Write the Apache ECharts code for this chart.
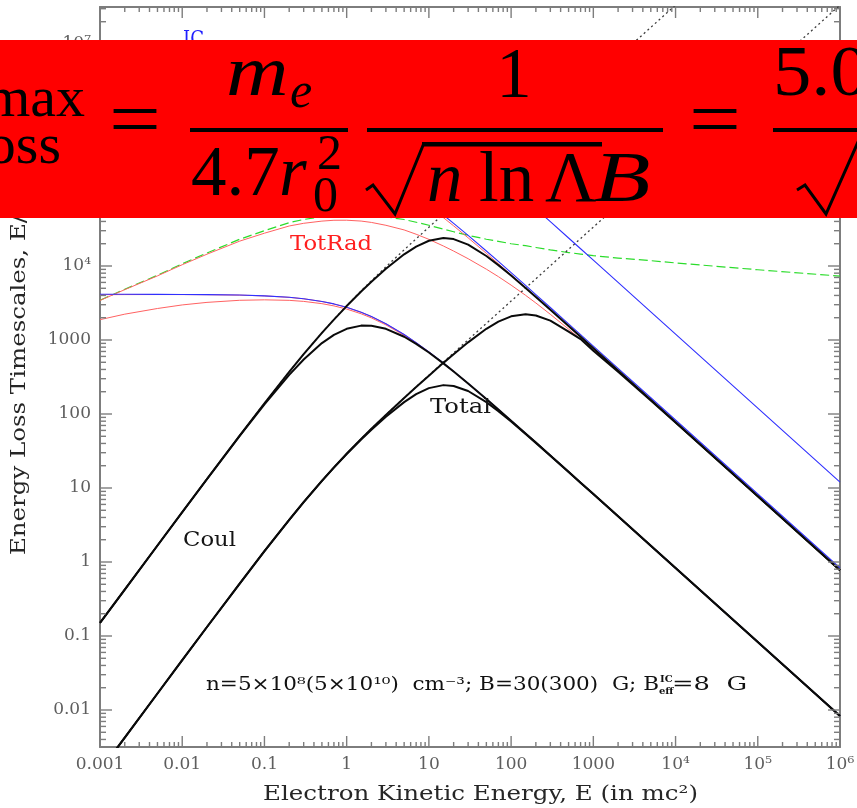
<!DOCTYPE html>
<html>
<head>
<meta charset="utf-8">
<script src="https://cdn.jsdelivr.net/npm/echarts@6/dist/echarts.min.js"></script>
<style>
  html, body { margin: 0; padding: 0; background: #ffffff; }
  #chart { width: 857px; height: 808px; }
</style>
</head>
<body>
<div id="chart"></div>
<script>
// Electron kinetic energy grid (units of mc^2)
const energy = [0.001, 0.002, 0.005, 0.01, 0.02, 0.05, 0.1, 0.2, 0.3, 0.5, 0.7, 1, 1.5, 2, 3, 5, 7, 10, 15, 20, 30, 50, 70, 100, 150, 200, 300, 500, 700, 1000, 2000, 5000, 1e4, 1e5, 1e6];

// Coulomb loss timescales (s), n = 5e8 and n = 5e10
const coulThin = [0.15, 0.424, 1.672, 4.711, 13.23, 51.17, 139.8, 371.0, 643.3, 1251, 1900, 2906, 4614, 6328, 9748, 16545, 23308, 33421, 50242, 67044, 100628, 167768, 234900, 335600, 503400, 671200, 1006800, 1678000, 2349000, 3356000, 6712000, 16780000, 33560000, 335600000, 3356000000];
const coulDense = [0.0015, 0.00424, 0.01672, 0.04711, 0.1323, 0.5117, 1.398, 3.710, 6.433, 12.51, 19.00, 29.06, 46.14, 63.28, 97.48, 165.5, 233.1, 334.2, 502.4, 670.4, 1006, 1678, 2349, 3356, 5034, 6712, 10068, 16780, 23490, 33560, 67120, 167800, 335600, 3356000, 33560000];

// Synchrotron (B = 300 G, B = 30 G) and inverse Compton (B_eff = 8 G)
const synch300 = [4148, 4146, 4140, 4129, 4109, 4049, 3952, 3773, 3609, 3320, 3074, 2767, 2371, 2075, 1660, 1186, 922.2, 691.7, 488.2, 377.3, 259.4, 159.6, 115.3, 81.37, 54.61, 41.09, 27.48, 16.53, 11.82, 8.283, 4.146, 1.659, 0.8298, 0.0830, 0.00830];
const synch30 = [414800, 414600, 414000, 412900, 410900, 404900, 395200, 377300, 360900, 332000, 307400, 276700, 237100, 207500, 166000, 118600, 92220, 69170, 48820, 37730, 25940, 15960, 11530, 8137, 5461, 4109, 2748, 1653, 1182, 828.3, 414.6, 165.9, 82.98, 8.30, 0.830];
const inverseCompton = [5997000, 5994000, 5985000, 5970000, 5941000, 5854000, 5714000, 5455000, 5217000, 4800000, 4444000, 4000000, 3429000, 3000000, 2400000, 1714000, 1333000, 1000000, 705900, 545500, 375000, 230800, 166700, 117600, 78950, 59410, 39740, 23900, 17090, 11980, 5994, 2399, 1200, 120.0, 12.00];

// Bremsstrahlung, n = 5e10
const bremsDense = [3450, 4850, 7500, 10700, 15000, 23000, 30000, 38500, 42500, 46500, 48500, 49500, 49500, 48500, 46000, 42500, 39000, 35500, 31500, 29000, 26000, 23000, 21500, 20000, 18800, 17800, 16500, 15200, 14500, 13800, 12800, 11800, 11000, 8900, 7300];

// Total radiative timescales
const totRadDense300 = [1883, 2234, 2666, 2978, 3224, 3441, 3490, 3434, 3324, 3097, 2889, 2619, 2261, 1989, 1601, 1153, 900.3, 678.0, 480.4, 372.2, 256.7, 158.4, 114.6, 80.98, 54.41, 40.97, 27.42, 16.50, 11.80, 8.272, 4.142, 1.658, 0.8292, 0.08294, 0.008294];
const totRadDense30 = [3420, 4790, 7357, 10411, 14436, 21683, 27747, 34722, 37750, 40437, 41494, 41556, 40470, 38802, 35485, 30727, 26857, 22922, 18638, 15920, 12550, 9053, 7182, 5513, 4016, 3161, 2224, 1403, 1027, 733.5, 376.4, 153.2, 77.07, 7.757, 0.7762];
const totRadThin300 = [4096, 4108, 4115, 4110, 4095, 4039, 3944, 3767, 3603, 3315, 3070, 2764, 2368, 2073, 1658, 1185, 921.3, 691.1, 487.8, 377.0, 259.2, 159.5, 115.2, 81.31, 54.57, 41.06, 27.46, 16.52, 11.81, 8.277, 4.143, 1.658, 0.8292, 0.08294, 0.008294];
const totRadThin30 = [182600, 215500, 256500, 283700, 305900, 325100, 329100, 323300, 312700, 291100, 271400, 245900, 212200, 186600, 150200, 108100, 84390, 63540, 45000, 34870, 24040, 14830, 10730, 7582, 5093, 3835, 2566, 1545, 1105, 774.3, 387.7, 155.2, 77.62, 7.763, 0.7762];

// Total loss timescales for the four (n, B) combinations
const totalThin30 = [0.15, 0.424, 1.672, 4.711, 13.23, 51.16, 139.75, 370.6, 642.1, 1246, 1888, 2874, 4526, 6126, 9169, 14386, 18317, 21958, 23853, 23097, 19450, 13645, 10278, 7444, 5052, 3811, 2560, 1543, 1103, 774.0, 387.4, 155.2, 77.61, 7.763, 0.7762];
const totalThin300 = [0.15, 0.4239, 1.671, 4.706, 13.19, 50.53, 135.0, 337.7, 545.8, 908.1, 1174, 1417, 1565, 1561, 1417, 1106, 886.3, 677.1, 483.1, 374.9, 258.5, 159.3, 115.2, 81.29, 54.56, 41.06, 27.46, 16.52, 11.81, 8.277, 4.143, 1.658, 0.8292, 0.08294, 0.008294];
const totalDense30 = [0.0015, 0.00424, 0.01672, 0.04711, 0.1323, 0.5117, 1.398, 3.710, 6.432, 12.50, 18.99, 29.04, 46.09, 63.18, 97.21, 164.6, 231.0, 329.3, 490.9, 643.2, 930.0, 1416, 1772, 2088, 2231, 2147, 1826, 1297, 1029, 716.3, 373.1, 152.8, 77.05, 7.757, 0.7760];
const totalDense300 = [0.0015, 0.00424, 0.01672, 0.04710, 0.1323, 0.5116, 1.398, 3.706, 6.421, 12.46, 18.87, 28.74, 45.22, 61.33, 91.88, 144.7, 185.2, 223.8, 245.6, 239.3, 204.5, 144.7, 109.3, 79.08, 53.83, 40.72, 27.34, 16.49, 11.80, 8.270, 4.142, 1.658, 0.8292, 0.08294, 0.008294];

// Axis ticks and their labels
const xTickValues = [0.001, 0.01, 0.1, 1, 10, 100, 1000, 1e4, 1e5, 1e6];
const xTickLabels = ['0.001', '0.01', '0.1', '1', '10', '100', '1000', '10\u2074', '10\u2075', '10\u2076'];
const yTickValues = [0.01, 0.1, 1, 10, 100, 1000, 1e4, 1e5, 1e6, 1e7];
const yTickLabels = ['0.01', '0.1', '1', '10', '100', '1000', '10\u2074', '10\u2075', '10\u2076', '10\u2077'];

const X_MIN = 0.001, X_MAX = 1e6;
const Y_MIN = Math.pow(10, -2.5), Y_MAX = Math.pow(10, 7.5);

// 2..9 subdivisions of each decade inside [lo, hi]
function minorTicks(lo, hi) {
  const out = [];
  for (let k = Math.floor(Math.log10(lo)); k <= Math.ceil(Math.log10(hi)); k++) {
    for (let m = 2; m <= 9; m++) {
      const v = m * Math.pow(10, k);
      if (v > lo && v < hi) out.push(v);
    }
  }
  return out;
}
const xMinor = minorTicks(X_MIN, X_MAX);
const yMinor = minorTicks(Y_MIN, Y_MAX);

function labelFor(values, labels) {
  return function (v) {
    const e = Math.round(Math.log10(v));
    for (let i = 0; i < values.length; i++) {
      if (Math.round(Math.log10(values[i])) === e) return labels[i];
    }
    return '';
  };
}

const SERIF = '"DejaVu Serif", serif';
const MATH = '"Liberation Serif", "Times New Roman", serif';
const AXIS_GRAY = '#7d7d7d';
const LABEL_GRAY = '#5e5e5e';

const mctx = document.createElement('canvas').getContext('2d');
function measure(str, size, family, italic, bold) {
  mctx.font = (italic ? 'italic ' : '') + (bold ? 'bold ' : '') + size + 'px ' + family;
  return mctx.measureText(str).width;
}

// text placed by its baseline; optional width stretches it horizontally
function txt(str, o) {
  const family = o.family || SERIF;
  let sx = o.scale || 1;
  if (o.width) sx = o.width / measure(o.fitTo || str, o.size, family, o.italic, o.bold);
  const mid = o.baseline - (family === MATH ? 0.3375 : 0.346) * o.size;
  return {
    type: 'text', x: o.x, y: mid, scaleX: sx, z: o.z || 50, silent: true,
    style: {
      text: str, fill: o.color || '#000', fontSize: o.size, fontFamily: family,
      fontStyle: o.italic ? 'italic' : 'normal', fontWeight: o.bold ? 'bold' : 'normal',
      textAlign: o.align || 'left', textVerticalAlign: 'middle'
    }
  };
}

function pairs(values) { return energy.map((e, i) => [e, values[i]]); }

function line(name, values, color, width, type, z) {
  return {
    name: name, type: 'line', data: pairs(values), xAxisIndex: 0, yAxisIndex: 0,
    showSymbol: false, symbol: 'none', smooth: false, silent: true,
    lineStyle: { color: color, width: width, type: type, join: 'round' }, z: z, clip: true
  };
}

const GREEN = '#2bdc2b', RED = '#ff6262', BLUE = '#3030ff', BLACK = '#0a0a0a', DOT = '#3c3c3c';

const series = [
  line('Brems', bremsDense, GREEN, 1.2, [9, 4], 2),
  line('TotRad 5e10/300', totRadDense300, RED, 1, 'solid', 3),
  line('TotRad 5e10/30', totRadDense30, RED, 1, 'solid', 3),
  line('TotRad 5e8/300', totRadThin300, RED, 1, 'solid', 3),
  line('TotRad 5e8/30', totRadThin30, RED, 1, 'solid', 3),
  line('Synch 300', synch300, BLUE, 1.1, 'solid', 4),
  line('Synch 30', synch30, BLUE, 1.1, 'solid', 4),
  line('IC', inverseCompton, BLUE, 1.1, 'solid', 4),
  line('Coul 5e8', coulThin, DOT, 1.3, [2, 3], 5),
  line('Coul 5e10', coulDense, DOT, 1.3, [2, 3], 5),
  line('Total 5e8/30', totalThin30, BLACK, 2, 'solid', 6),
  line('Total 5e8/300', totalThin300, BLACK, 2, 'solid', 6),
  line('Total 5e10/30', totalDense30, BLACK, 2, 'solid', 6),
  line('Total 5e10/300', totalDense300, BLACK, 2, 'solid', 6)
];

function logAxis(dim, position, showLabel) {
  const ax = {
    type: 'log', logBase: 10, position: position,
    min: dim === 'x' ? X_MIN : Y_MIN, max: dim === 'x' ? X_MAX : Y_MAX,
    axisLine: { show: true, onZero: false, lineStyle: { color: AXIS_GRAY, width: 2 } },
    axisTick: { show: false },
    axisLabel: { show: false },
    splitLine: { show: false }, minorTick: { show: false }, minorSplitLine: { show: false }
  };
  if (showLabel) {
    ax.axisLabel = {
      show: true, customValues: dim === 'x' ? xTickValues : yTickValues, margin: 9,
      color: LABEL_GRAY, fontFamily: SERIF, fontSize: 17,
      formatter: dim === 'x' ? labelFor(xTickValues, xTickLabels) : labelFor(yTickValues, yTickLabels)
    };
  }
  return ax;
}

// ---- annotations ----
const graphics = [];
graphics.push(txt('TotRad', { x: 290, baseline: 252, size: 20, width: 82, color: '#ff1f1f' }));
graphics.push(txt('Total', { x: 430, baseline: 415, size: 20, width: 61, color: '#151515' }));
graphics.push(txt('Coul', { x: 183, baseline: 548, size: 20, width: 53, color: '#151515' }));
graphics.push(txt('IC', { x: 183, baseline: 46.5, size: 20, width: 21, color: '#1f1fff' }));
graphics.push(txt('n=5\u00d710\u2078(5\u00d710\u00b9\u2070)  cm\u207b\u00b3; B=30(300)  G; B', { x: 206, baseline: 692, size: 18, width: 453, color: '#111' }));
graphics.push(txt('IC', { x: 660, baseline: 683, size: 10, bold: true, color: '#111' }));
graphics.push(txt('eff', { x: 659, baseline: 695, size: 10, bold: true, color: '#111' }));
graphics.push(txt('=8  G', { x: 672, baseline: 692, size: 18, width: 75, color: '#111' }));
graphics.push(txt('Electron Kinetic Energy, E (in mc\u00b2)', { x: 263, baseline: 802, size: 20, width: 435, color: '#262626' }));

// vertical axis title, read bottom to top
(function () {
  const title = 'Energy Loss Timescales, E/\u0116 (s)';
  const sx = 340 / measure('Energy Loss Timescales, E/', 20, SERIF);
  graphics.push({
    type: 'text', x: 20, y: 555, rotation: Math.PI / 2, scaleX: sx, z: 50, silent: true,
    style: { text: title, fill: '#262626', fontSize: 20, fontFamily: SERIF, textAlign: 'left', textVerticalAlign: 'middle' }
  });
})();

// ---- formula banner ----
const FZ = 110;
graphics.push({ type: 'rect', z: 100, silent: true, shape: { x: 0, y: 40, width: 857, height: 178 }, style: { fill: '#ff0000' } });
const formulaParts = [
  ['max', { x: 85, baseline: 120, size: 58, align: 'right' }],
  ['oss', { x: 61, baseline: 167, size: 58, align: 'right' }],
  ['=', { x: 109, baseline: 152, size: 80, scale: 1.15 }],
  ['m', { x: 226, baseline: 100, size: 71, italic: true, scale: 1.22 }],
  ['e', { x: 290, baseline: 111, size: 50, italic: true }],
  ['4.7', { x: 191, baseline: 200, size: 71 }],
  ['r', { x: 279, baseline: 200, size: 71, italic: true }],
  ['2', { x: 317, baseline: 173, size: 50 }],
  ['0', { x: 313, baseline: 215, size: 50 }],
  ['1', { x: 514, baseline: 102, size: 71, align: 'center' }],
  ['n', { x: 427, baseline: 206, size: 71, italic: true }],
  ['ln', { x: 479, baseline: 206, size: 71 }],
  ['\u039b', { x: 545, baseline: 206, size: 71 }],
  ['B', { x: 594, baseline: 206, size: 71, italic: true, scale: 1.3 }],
  ['=', { x: 689, baseline: 152, size: 80, scale: 1.15 }],
  ['5.0', { x: 773, baseline: 100, size: 71, scale: 1.08 }]
];
formulaParts.forEach(function (p) {
  const o = Object.assign({ family: MATH, z: FZ, color: '#000' }, p[1]);
  graphics.push(txt(p[0], o));
});
[[190, 128, 158, 4], [367, 128, 296, 4], [773, 128, 90, 4], [422, 142, 180, 4.5]].forEach(function (r) {
  graphics.push({ type: 'rect', z: FZ, silent: true, shape: { x: r[0], y: r[1], width: r[2], height: r[3] }, style: { fill: '#000' } });
});
[[[366, 190], [373, 185], [395, 214], [424, 143]], [[797, 190], [805, 185], [826, 214], [866, 124]]].forEach(function (pts) {
  graphics.push({ type: 'polyline', z: FZ, silent: true, shape: { points: pts }, style: { stroke: '#000', lineWidth: 3, fill: null, lineJoin: 'miter' } });
});

const option = {
  animation: false,
  backgroundColor: '#ffffff',
  grid: { left: 100, right: 17, top: 7, bottom: 61, outerBoundsMode: 'none' },
  xAxis: [logAxis('x', 'bottom', true), logAxis('x', 'top', false)],
  yAxis: [logAxis('y', 'left', true), logAxis('y', 'right', false)],
  series: series,
  graphic: { elements: graphics }
};

const chart = echarts.init(document.getElementById('chart'), null, { renderer: 'canvas', devicePixelRatio: 1 });
chart.setOption(option);

// inward tick marks on all four sides, placed through the axis scales
(function () {
  const xp = v => chart.convertToPixel({ xAxisIndex: 0 }, v);
  const yp = v => chart.convertToPixel({ yAxisIndex: 0 }, v);
  const left = xp(X_MIN), right = xp(X_MAX), top = yp(Y_MAX), bottom = yp(Y_MIN);
  const ticks = [];
  function seg(x1, y1, x2, y2) {
    ticks.push({ type: 'line', z: 40, silent: true, shape: { x1: x1, y1: y1, x2: x2, y2: y2 }, style: { stroke: AXIS_GRAY, lineWidth: 1.4 } });
  }
  xTickValues.forEach(v => { const x = xp(v); seg(x, bottom, x, bottom - 11); seg(x, top, x, top + 11); });
  xMinor.forEach(v => { const x = xp(v); seg(x, bottom, x, bottom - 5); seg(x, top, x, top + 5); });
  yTickValues.forEach(v => { const y = yp(v); seg(left, y, left + 12, y); seg(right, y, right - 12, y); });
  yMinor.forEach(v => { const y = yp(v); seg(left, y, left + 6, y); seg(right, y, right - 6, y); });
  chart.setOption({ graphic: { elements: graphics.concat(ticks) } }, { replaceMerge: ['graphic'] });
})();
</script>
</body>
</html>
